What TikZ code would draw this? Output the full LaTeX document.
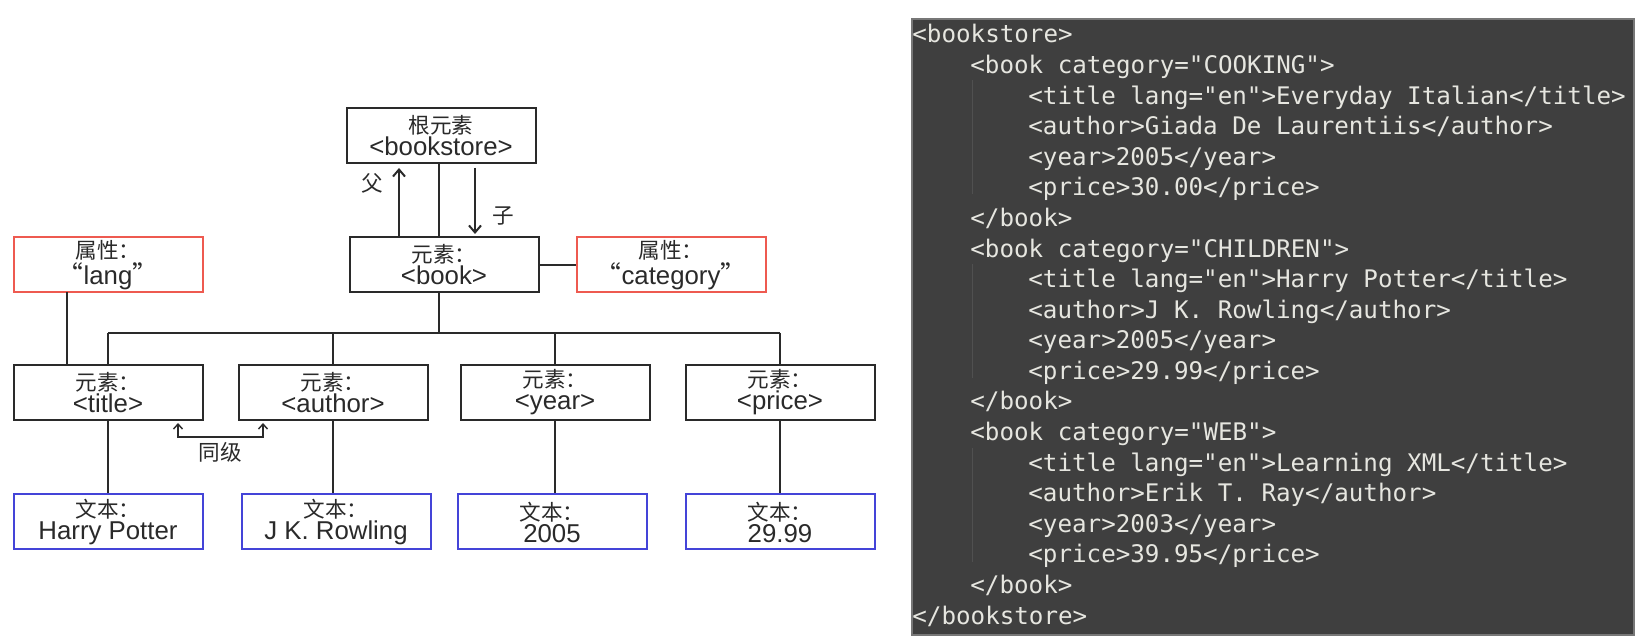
\documentclass[tikz,border=0pt]{standalone}
\usepackage{fontspec}
\setmainfont{Liberation Sans}
\setmonofont{DejaVu Sans Mono}
\newfontfamily\cjk{Noto Sans CJK SC}
\usetikzlibrary{arrows.meta}
\definecolor{ink}{HTML}{2A2A2A}
\definecolor{redb}{HTML}{EE5A50}
\definecolor{blueb}{HTML}{4444D8}
\definecolor{panel}{HTML}{3F3F3F}
\definecolor{panelb}{HTML}{777777}
\definecolor{codetxt}{HTML}{E6E6E0}
\definecolor{guide}{HTML}{505050}
\newcommand{\zh}[1]{{\cjk\fontsize{10.8}{11}\selectfont #1}}
\tikzset{
 box/.style={draw=ink, line width=1pt, minimum width=94.5pt, minimum height=27.5pt,
   inner sep=0pt, align=center, text=ink, font=\fontsize{12.9}{11}\selectfont},
 attbox/.style={box, draw=redb},
 txtbox/.style={box, draw=blueb},
 link/.style={draw=ink, line width=1pt},
 arr/.style={link, -{Straight Barb[length=3.5pt,width=6pt]}},
 dblarr/.style={link, line width=0.7pt, {Straight Barb[length=2.5pt,width=4.5pt]}-{Straight Barb[length=2.5pt,width=4.5pt]}},
 code/.style={anchor=base west, inner sep=0pt, text=codetxt, font=\ttfamily\fontsize{12.1}{14}\selectfont},
 lbl/.style={text=ink, font=\cjk\fontsize{10.8}{12}\selectfont, inner sep=0pt},
 guideline/.style={draw=guide, line width=0.5pt}
}
\begin{document}
\begin{tikzpicture}[x=0.5pt,y=-0.5pt]
\useasboundingbox[fill=white] (0,0) rectangle (1639,641);

% ---------- tree diagram ----------
\node[box] (bs) at (441,135.5) {\zh{根元素}\\<bookstore>};
\node[box] (book) at (444,265) {\zh{元素：}\\<book>};
\node[attbox] (cat) at (671,265) {\zh{属性：}\\{\cjk “}category{\cjk ”}};
\node[attbox] (lang) at (108,265) {\zh{属性：}\\{\cjk “}lang{\cjk ”}};

\node[box] (title) at (108,392.5) {\zh{元素：}\\<title>};
\node[box] (author) at (333,392.5) {\zh{元素：}\\<author>};
\node[box] (year) at (555,392.5) {\zh{元素：}\\<year>};
\node[box] (price) at (780,392.5) {\zh{元素：}\\<price>};

\node[txtbox] (hp) at (108,522) {\zh{文本：}\\Harry Potter};
\node[txtbox] (jk) at (336,522) {\zh{文本：}\\J K. Rowling};
\node[txtbox] (y05) at (552,522) {\zh{文本：}\\2005};
\node[txtbox] (pr) at (780,522) {\zh{文本：}\\29.99};

% parent / child
\coordinate (mid) at (439,200);
\draw[link] (bs.south -| mid) -- (book.north -| mid);
\coordinate (fa1) at (399,236);
\coordinate (fa2) at (399,168);
\coordinate (ch1) at (475,168);
\coordinate (ch2) at (475,234);
\draw[arr] (fa1) -- (fa2);
\draw[arr] (ch1) -- (ch2);
\node[lbl] (fu) at (372,183) {父};
\node[lbl] (zi) at (503,216) {子};

% attribute links
\draw[link] (book.east) -- (cat.west);
\coordinate (la1) at (67,292);
\coordinate (la2) at (67,366);
\draw[link] (la1) -- (la2);

% bus
\coordinate (bus) at (439,333);
\draw[link] (book.south -| mid) -- (bus);
\draw[link] (title.north |- bus) -- (price.north |- bus);
\foreach \n in {title,author,year,price}
  \draw[link] (\n.north |- bus) -- (\n.north);

% element to text
\draw[link] (title.south) -- (title.south |- hp.north);
\draw[link] (author.south) -- (author.south |- jk.north);
\draw[link] (year.south) -- (year.south |- y05.north);
\draw[link] (price.south) -- (price.south |- pr.north);

% siblings
\coordinate (s1) at (178,423);
\coordinate (s2) at (178,437);
\coordinate (s3) at (263,437);
\coordinate (s4) at (263,423);
\draw[dblarr] (s1) -- (s2) -- (s3) -- (s4);
\node[lbl] (tj) at (220,452) {同级};

% ---------- code panel ----------
\path[fill=panel, draw=panelb, line width=0.6pt] (912,19) rectangle (1634,635);
\draw[guideline] (972,80) -- (972,194);
\draw[guideline] (972,264) -- (972,378);
\draw[guideline] (972,448) -- (972,562);

\node[code] (c1)  at (912,43.0)  {<bookstore>};
\node[code] (c2)  at (970,73.6)  {<book category="COOKING">};
\node[code] (c3)  at (1028,104.2) {<title lang="en">Everyday Italian</title>};
\node[code] (c4)  at (1028,134.7) {<author>Giada De Laurentiis</author>};
\node[code] (c5)  at (1028,165.3) {<year>2005</year>};
\node[code] (c6)  at (1028,195.9) {<price>30.00</price>};
\node[code] (c7)  at (970,226.5) {</book>};
\node[code] (c8)  at (970,257.1) {<book category="CHILDREN">};
\node[code] (c9)  at (1028,287.6) {<title lang="en">Harry Potter</title>};
\node[code] (c10) at (1028,318.2) {<author>J K. Rowling</author>};
\node[code] (c11) at (1028,348.8) {<year>2005</year>};
\node[code] (c12) at (1028,379.4) {<price>29.99</price>};
\node[code] (c13) at (970,409.9) {</book>};
\node[code] (c14) at (970,440.5) {<book category="WEB">};
\node[code] (c15) at (1028,471.1) {<title lang="en">Learning XML</title>};
\node[code] (c16) at (1028,501.7) {<author>Erik T. Ray</author>};
\node[code] (c17) at (1028,532.3) {<year>2003</year>};
\node[code] (c18) at (1028,562.8) {<price>39.95</price>};
\node[code] (c19) at (970,593.4) {</book>};
\node[code] (c20) at (912,624.0) {</bookstore>};
\end{tikzpicture}
\end{document}
